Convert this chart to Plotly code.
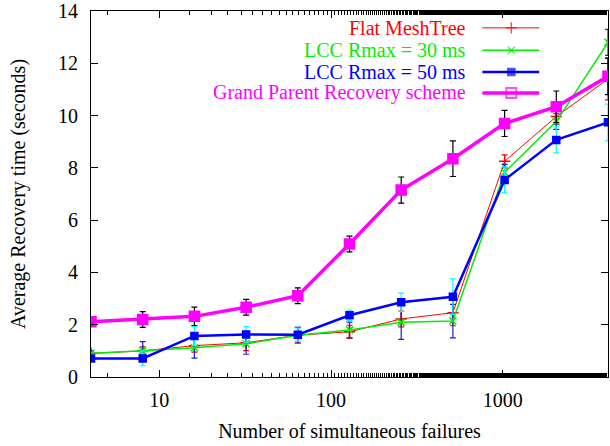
import plotly.graph_objects as go

# number of simultaneous failures
failures = [4, 8, 16, 32, 64, 128, 256, 512, 1024, 2048, 4096]

flat_mean = [0.90, 1.00, 1.20, 1.31, 1.60, 1.73, 2.22, 2.46, 8.25, 9.96, 11.40]
flat_err = [0.10, 0.15, 0.25, 0.30, 0.30, 0.25, 0.30, 0.50, 0.25, 0.30, 0.80]

lcc30_mean = [0.91, 1.00, 1.12, 1.27, 1.60, 1.80, 2.09, 2.14, 7.83, 9.77, 12.80]
lcc30_err = [0.10, 0.35, 0.40, 0.40, 0.30, 0.30, 0.65, 0.64, 0.30, 0.30, 0.50]

lcc50_mean = [0.71, 0.71, 1.57, 1.63, 1.62, 2.36, 2.86, 3.07, 7.54, 9.07, 9.74]
lcc50_err = [0.10, 0.28, 0.36, 0.30, 0.25, 0.20, 0.35, 0.68, 0.50, 0.50, 0.70]

gp_mean = [2.11, 2.20, 2.32, 2.67, 3.11, 5.09, 7.15, 8.35, 9.70, 10.34, 11.50]
gp_err = [0.05, 0.30, 0.35, 0.30, 0.30, 0.30, 0.50, 0.68, 0.50, 0.60, 0.70]

series = [
    # label, mean, err, line colour, bar colour, width, symbol, marker size
    ("Flat MeshTree", flat_mean, flat_err, "#ff0000", "#ff0000", 1, "cross-thin", 8),
    ("LCC Rmax = 30 ms", lcc30_mean, lcc30_err, "#00ee00", "#2020d0", 1.5, "x-thin", 7),
    ("LCC Rmax = 50 ms", lcc50_mean, lcc50_err, "#0000ff", "#00ffff", 2.5, "square", 7),
    ("Grand Parent Recovery scheme", gp_mean, gp_err, "#ff00ff", "#000000", 3.5, "square", 10),
]

FONT = "Liberation Serif"
FS = 20

fig = go.Figure()
for name, mean, err, col, barcol, lw, sym, ms in series:
    fig.add_trace(go.Scatter(
        x=failures, y=mean, mode="lines+markers", name=name,
        line=dict(color=col, width=lw),
        marker=dict(symbol=sym, size=ms, color=col, line=dict(color=col, width=1.5)),
        error_y=dict(type="data", array=err, color=barcol, thickness=1.2, width=3),
        showlegend=False, cliponaxis=True,
    ))

# gnuplot-style key: text on the left, sample on the right
legend_rows = [0.954, 0.893, 0.833, 0.776]
for (name, mean, err, col, barcol, lw, sym, ms), ry in zip(series, legend_rows):
    fig.add_annotation(xref="paper", yref="paper", x=0.730, y=ry, text=name,
                       showarrow=False, xanchor="right", yanchor="middle",
                       font=dict(family=FONT, size=FS, color=col))
    legend_sym = "square-open" if name.startswith("Grand") else sym
    fig.add_trace(go.Scatter(
        x=[0.757, 0.813, 0.867], y=[ry] * 3, xaxis="x2", yaxis="y2",
        mode="lines+markers", showlegend=False, hoverinfo="skip",
        line=dict(color=col, width=lw),
        marker=dict(symbol=legend_sym, size=[0, ms, 0], color=col,
                    line=dict(color=col, width=2 if name.startswith("Grand") else 1.5)),
    ))

axis_common = dict(
    showline=True, linecolor="black", linewidth=1.2, mirror="ticks",
    ticks="inside", ticklen=7, tickcolor="black", tickwidth=1,
    showgrid=False, zeroline=False, automargin=False,
    tickfont=dict(family=FONT, size=FS, color="black"),
)

fig.update_layout(
    width=610, height=446,
    margin=dict(l=91, r=2, t=11, b=69),
    paper_bgcolor="white", plot_bgcolor="white",
    font=dict(family=FONT, size=FS, color="black"),
    xaxis=dict(
        type="log", range=[0.602, 3.6124],
        tickvals=[10, 100, 1000], ticktext=["10", "100", "1000"],
        minor=dict(ticks="inside", ticklen=4, tickcolor="black", showgrid=False),
        title=dict(text="Number of simultaneous failures", standoff=13,
                   font=dict(family=FONT, size=FS)),
        ticklabelstandoff=5,
        **axis_common,
    ),
    yaxis=dict(
        range=[0, 14], dtick=2,
        title=dict(text="Average Recovery time (seconds)", standoff=26,
                   font=dict(family=FONT, size=FS)),
        ticklabelstandoff=8,
        **axis_common,
    ),
    xaxis2=dict(overlaying="x", range=[0, 1], visible=False, domain=[0, 1]),
    yaxis2=dict(overlaying="y", range=[0, 1], visible=False),
)

# the page's default body margin would shift the chart
fig.write_html("out.html", config={"displayModeBar": False},
               post_script="document.body.style.margin='0';")
